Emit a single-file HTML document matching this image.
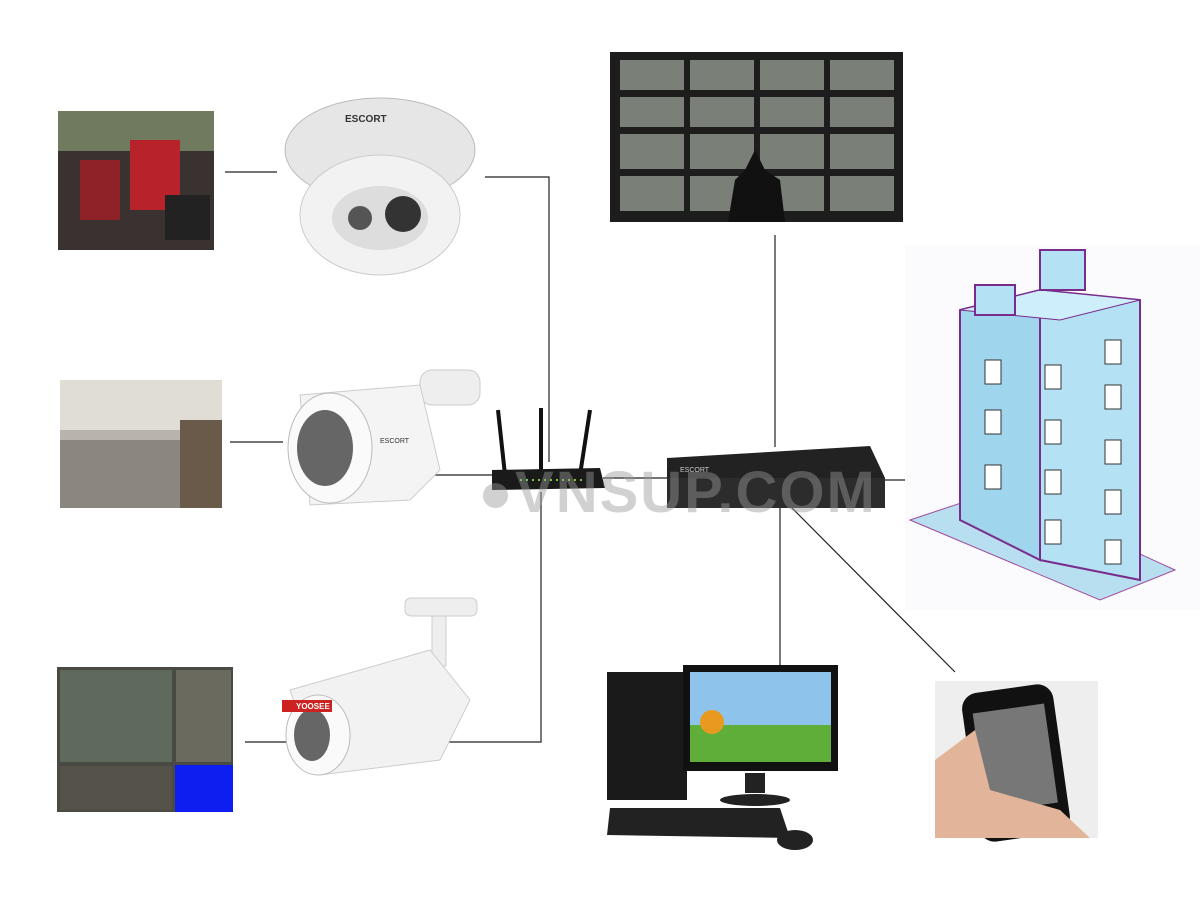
<!DOCTYPE html>
<html><head><meta charset="utf-8"><style>
html,body{margin:0;padding:0;background:#fff;width:1200px;height:900px;overflow:hidden}
</style></head><body>
<svg width="1200" height="900" viewBox="0 0 1200 900" xmlns="http://www.w3.org/2000/svg" font-family="Liberation Sans, sans-serif">
<rect width="1200" height="900" fill="#fff"/>
<!-- connectors -->
<g stroke="#222" stroke-width="1.2" fill="none">
<line x1="225" y1="172" x2="277" y2="172"/>
<polyline points="485,177 549,177 549,462"/>
<line x1="230" y1="442" x2="283" y2="442"/>
<line x1="428" y1="475" x2="495" y2="475"/>
<line x1="603" y1="478" x2="667" y2="478"/>
<line x1="775" y1="235" x2="775" y2="447"/>
<line x1="884" y1="480" x2="950" y2="480"/>
<line x1="245" y1="742" x2="290" y2="742"/>
<polyline points="420,742 541,742 541,492"/>
<line x1="780" y1="508" x2="780" y2="665"/>
<line x1="792" y1="508" x2="955" y2="672"/>
</g>
<!-- top-left photo -->
<rect x="58" y="111" width="156" height="139" fill="#3a3230"/>
<rect x="58" y="111" width="156" height="40" fill="#6f7a5e"/>
<rect x="130" y="140" width="50" height="70" fill="#b8222a"/>
<rect x="80" y="160" width="40" height="60" fill="#8e2228"/>
<rect x="165" y="195" width="45" height="45" fill="#222"/>
<!-- dome camera -->
<ellipse cx="380" cy="150" rx="95" ry="52" fill="#e6e6e6" stroke="#bbb"/>
<ellipse cx="380" cy="215" rx="80" ry="60" fill="#f2f2f2" stroke="#ccc"/>
<ellipse cx="380" cy="218" rx="48" ry="32" fill="#ddd"/>
<circle cx="360" cy="218" r="12" fill="#555"/>
<circle cx="403" cy="214" r="18" fill="#333"/>
<text x="345" y="122" font-size="10" fill="#333" font-weight="bold">ESCORT</text>
<!-- middle-left photo -->
<rect x="60" y="380" width="162" height="128" fill="#b8b3ab"/>
<rect x="60" y="380" width="162" height="50" fill="#e0ddd5"/>
<rect x="60" y="440" width="120" height="68" fill="#8c8680"/>
<rect x="180" y="420" width="42" height="88" fill="#6a5a4a"/>
<!-- bullet camera -->
<rect x="420" y="370" width="60" height="35" rx="12" fill="#eee" stroke="#ccc"/>
<path d="M300 395 L420 385 L440 470 L410 500 L310 505 Z" fill="#f4f4f4" stroke="#ccc"/>
<ellipse cx="330" cy="448" rx="42" ry="55" fill="#fafafa" stroke="#bbb"/>
<ellipse cx="325" cy="448" rx="28" ry="38" fill="#666"/>
<text x="380" y="443" font-size="7" fill="#333">ESCORT</text>
<!-- router -->
<line x1="505" y1="475" x2="498" y2="410" stroke="#111" stroke-width="4"/>
<line x1="541" y1="475" x2="541" y2="408" stroke="#111" stroke-width="4"/>
<line x1="580" y1="475" x2="590" y2="410" stroke="#111" stroke-width="4"/>
<path d="M492 470 L600 468 L605 488 L492 490 Z" fill="#1a1a1a"/>
<line x1="520" y1="480" x2="585" y2="480" stroke="#7c4" stroke-width="2" stroke-dasharray="2 4"/>
<!-- DVR -->
<path d="M667 458 L870 446 L885 478 L885 505 L667 508 Z" fill="#222"/>
<rect x="667" y="478" width="218" height="30" fill="#2c2c2c"/>
<text x="680" y="472" font-size="7" fill="#ccc">ESCORT</text>
<!-- watermark -->
<text x="478" y="512" font-size="58" font-weight="bold" fill="#999" fill-opacity="0.45" letter-spacing="2">●VNSUP.COM</text>
<!-- monitor wall -->
<rect x="610" y="52" width="293" height="170" fill="#1d1d1d"/>
<g fill="#7a7f78">
<rect x="620" y="60" width="64" height="30"/><rect x="690" y="60" width="64" height="30"/><rect x="760" y="60" width="64" height="30"/><rect x="830" y="60" width="64" height="30"/>
<rect x="620" y="97" width="64" height="30"/><rect x="690" y="97" width="64" height="30"/><rect x="760" y="97" width="64" height="30"/><rect x="830" y="97" width="64" height="30"/>
<rect x="620" y="134" width="64" height="35"/><rect x="690" y="134" width="64" height="35"/><rect x="760" y="134" width="64" height="35"/><rect x="830" y="134" width="64" height="35"/>
<rect x="620" y="176" width="64" height="35"/><rect x="690" y="176" width="64" height="35"/><rect x="760" y="176" width="64" height="35"/><rect x="830" y="176" width="64" height="35"/>
</g>
<path d="M728 222 L735 180 L745 170 L755 150 L765 170 L780 180 L785 222 Z" fill="#111"/>
<!-- building -->
<rect x="905" y="245" width="295" height="365" fill="#fbfbfd"/>
<path d="M910 520 L1000 490 L1175 570 L1100 600 Z" fill="#b8dff0" stroke="#a04c9c"/>
<path d="M960 310 L1040 290 L1040 560 L960 520 Z" fill="#9fd6ee" stroke="#7a2c8c" stroke-width="2"/>
<path d="M1040 290 L1140 300 L1140 580 L1040 560 Z" fill="#b4e2f4" stroke="#7a2c8c" stroke-width="2"/>
<path d="M960 310 L1040 290 L1140 300 L1060 320 Z" fill="#cdeefa" stroke="#7a2c8c"/>
<rect x="1040" y="250" width="45" height="40" fill="#b4e2f4" stroke="#7a2c8c" stroke-width="2"/>
<rect x="975" y="285" width="40" height="30" fill="#b4e2f4" stroke="#7a2c8c" stroke-width="2"/>
<g fill="#fff" stroke="#333">
<rect x="985" y="360" width="16" height="24"/><rect x="985" y="410" width="16" height="24"/><rect x="985" y="465" width="16" height="24"/>
<rect x="1045" y="365" width="16" height="24"/><rect x="1045" y="420" width="16" height="24"/><rect x="1045" y="470" width="16" height="24"/><rect x="1045" y="520" width="16" height="24"/>
<rect x="1105" y="340" width="16" height="24"/><rect x="1105" y="385" width="16" height="24"/><rect x="1105" y="440" width="16" height="24"/><rect x="1105" y="490" width="16" height="24"/><rect x="1105" y="540" width="16" height="24"/>
</g>
<!-- bottom-left photo -->
<rect x="57" y="667" width="176" height="145" fill="#4a4a44"/>
<rect x="60" y="670" width="112" height="92" fill="#5d6a5c"/>
<rect x="176" y="670" width="55" height="92" fill="#6b6a5e"/>
<rect x="60" y="766" width="112" height="44" fill="#55524a"/>
<rect x="175" y="765" width="58" height="47" fill="#0f1ef0"/>
<!-- camera 3 -->
<rect x="405" y="598" width="72" height="18" rx="6" fill="#eee" stroke="#ccc"/>
<rect x="432" y="616" width="14" height="50" fill="#eee" stroke="#ccc"/>
<path d="M290 690 L430 650 L470 700 L440 760 L320 775 Z" fill="#f2f2f2" stroke="#ccc"/>
<ellipse cx="318" cy="735" rx="32" ry="40" fill="#fafafa" stroke="#bbb"/>
<ellipse cx="312" cy="735" rx="18" ry="26" fill="#666"/>
<rect x="282" y="700" width="50" height="12" fill="#c22"/>
<text x="296" y="709" font-size="8" fill="#fff" font-weight="bold">YOOSEE</text>
<!-- computer -->
<rect x="607" y="672" width="80" height="128" fill="#1a1a1a"/>
<rect x="683" y="665" width="155" height="106" fill="#111"/>
<rect x="690" y="672" width="141" height="90" fill="#8ec4ec"/>
<rect x="690" y="725" width="141" height="37" fill="#5fae3a"/>
<circle cx="712" cy="722" r="12" fill="#e89a20"/>
<rect x="745" y="773" width="20" height="20" fill="#222"/>
<ellipse cx="755" cy="800" rx="35" ry="6" fill="#222"/>
<path d="M610 808 L780 808 L790 838 L607 835 Z" fill="#222"/>
<ellipse cx="795" cy="840" rx="18" ry="10" fill="#222"/>
<!-- phone -->
<rect x="935" y="681" width="163" height="157" fill="#eeeeee"/>
<rect x="970" y="688" width="92" height="150" rx="16" fill="#111" transform="rotate(-8 1016 763)"/>
<rect x="980" y="708" width="72" height="100" fill="#777" transform="rotate(-8 1016 763)"/>
<path d="M935 760 L975 730 L990 790 L1060 810 L1090 838 L935 838 Z" fill="#e2b59a"/>
</svg>
</body></html>
